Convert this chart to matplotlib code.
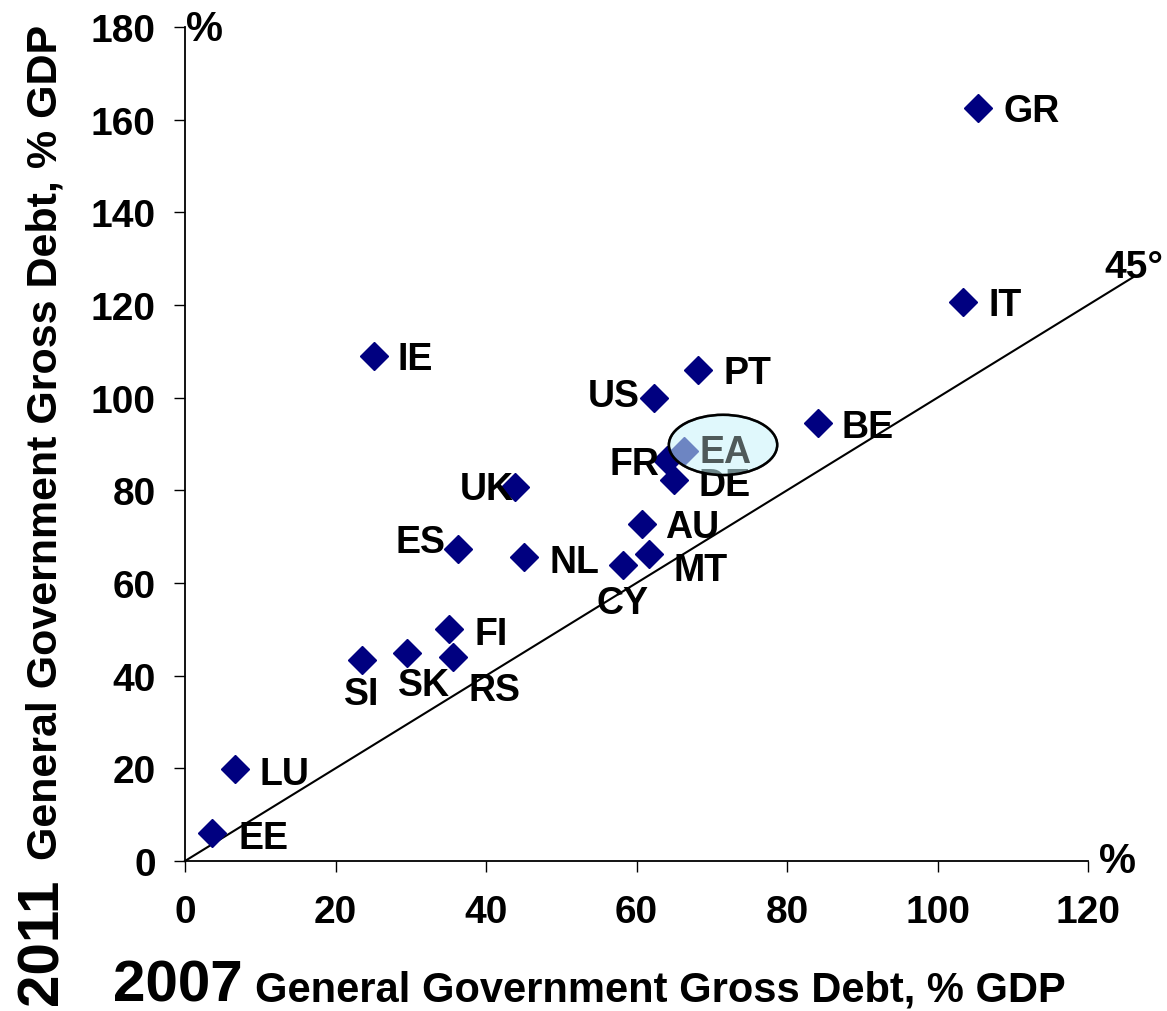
import matplotlib
matplotlib.use("Agg")
import matplotlib.pyplot as plt
from matplotlib.patches import Ellipse

plt.rcParams['font.family'] = ['Liberation Sans', 'DejaVu Sans']
plt.rcParams['font.weight'] = 'bold'

countries = ['GR', 'IT', 'PT', 'US', 'IE', 'BE', 'FR', 'DE', 'UK', 'AU',
             'ES', 'NL', 'MT', 'CY', 'FI', 'SI', 'SK', 'RS', 'LU', 'EE']
debt_2007 = [105.4, 103.4, 68.2, 62.3, 25.1, 84.1, 64.1, 65.0, 43.9, 60.7,
             36.3, 45.0, 61.7, 58.2, 35.1, 23.5, 29.5, 35.6, 6.6, 3.6]
debt_2011 = [162.5, 120.7, 106.0, 99.9, 109.0, 94.5, 86.6, 82.2, 80.7, 72.7,
             67.3, 65.6, 66.3, 63.9, 50.1, 43.4, 44.9, 44.0, 19.9, 6.0]
ea_label = 'EA'
ea_2007 = 66.3
ea_2011 = 88.5
x_ticks = [0, 20, 40, 60, 80, 100, 120]
y_ticks = [0, 20, 40, 60, 80, 100, 120, 140, 160, 180]
line_end = 126

# label placement (pixel offsets of label centre from point, alignment)
label_pos = {
    'GR': (25, 0, 'left'), 'IT': (25, 0, 'left'), 'PT': (25, 0, 'left'),
    'US': (-14, 5, 'right'), 'IE': (24, 0, 'left'), 'BE': (24, -1, 'left'),
    'FR': (-8, -1, 'right'), 'DE': (24, -2, 'left'), 'UK': (-2, 1, 'right'),
    'AU': (23, 0, 'left'), 'ES': (-13, 10, 'right'), 'NL': (26, -2, 'left'),
    'MT': (24, -13, 'left'), 'CY': (0, -35, 'center'), 'FI': (25, -2, 'left'),
    'SI': (0, -31, 'center'), 'SK': (17, -29, 'center'), 'RS': (42, -30, 'center'),
    'LU': (25, -2, 'left'), 'EE': (26, -2, 'left'),
}

W, H = 1167, 1012
fig = plt.figure(figsize=(W / 100, H / 100), dpi=100)
ax = fig.add_axes([185 / W, 1 - 862 / H, (1088 - 185) / W, (862 - 28) / H])
ax.set_xlim(0, 120)
ax.set_ylim(0, 180)

for s in ['top', 'right']:
    ax.spines[s].set_visible(False)
for s in ['left', 'bottom']:
    ax.spines[s].set_linewidth(1.3)

ax.set_xticks(x_ticks)
ax.set_yticks(y_ticks)
ax.tick_params(axis='x', direction='out', length=8, width=1, labelsize=28, pad=16)
ax.tick_params(axis='y', direction='out', length=8, width=1, labelsize=28, pad=13)
for lab in ax.get_xticklabels() + ax.get_yticklabels():
    lab.set_fontweight('bold')

# 45 degree line
ax.plot([0, line_end], [0, line_end], color='black', lw=1.5, clip_on=False, zorder=2)

ax.plot(debt_2007, debt_2011, linestyle='none', marker='D', markersize=14,
        color='#000080', markeredgecolor='#000080', zorder=3)
ax.plot([ea_2007], [ea_2011], linestyle='none', marker='D', markersize=14,
        color='#000080', zorder=3)

cap_half = 13
for c, x, y in zip(countries, debt_2007, debt_2011):
    dx, dy, ha = label_pos[c]
    ax.annotate(c, (x, y), xytext=(dx, dy - cap_half), textcoords='offset pixels',
                ha=ha, va='baseline', fontsize=27, fontweight='bold', color='black',
                zorder=4)

ell = Ellipse((71.5, 89.8), 14.4, 13.0, facecolor='#c8f4fa', edgecolor='black',
              lw=1.8, alpha=0.55, zorder=5)
ax.add_patch(ell)
ell2 = Ellipse((71.5, 89.8), 14.4, 13.0, facecolor='none', edgecolor='black',
               lw=1.8, zorder=6)
ax.add_patch(ell2)
ax.annotate(ea_label, (ea_2007, ea_2011), xytext=(16, 2 - cap_half),
            textcoords='offset pixels', ha='left', va='baseline', fontsize=27,
            fontweight='bold', color='#4f5a5a', zorder=7)

# axis unit marks and 45 label
fig.text(186 / W, 1 - 10 / H, '%', fontsize=30, fontweight='bold', ha='left', va='top')
fig.text(1099 / W, 1 - 842 / H, '%', fontsize=30, fontweight='bold', ha='left', va='top')
fig.text(1104 / W, 1 - 278 / H, '45°', fontsize=28, fontweight='bold', ha='left', va='baseline')

# axis titles
fig.text(113 / W, 1 - 1002 / H, '2007', fontsize=42, fontweight='bold', ha='left', va='baseline')
fig.text(255 / W, 1 - 1002 / H, 'General Government Gross Debt, % GDP', fontsize=30,
         fontweight='bold', ha='left', va='baseline')
fig.text(70 / W, 1 - 1005 / H, '2011', fontsize=42, fontweight='bold', rotation=90,
         ha='right', va='bottom')
fig.text(66 / W, 1 - 860 / H, 'General Government Gross Debt, % GDP', fontsize=31,
         fontweight='bold', rotation=90, ha='right', va='bottom')

fig.savefig('out.png', dpi=100)
